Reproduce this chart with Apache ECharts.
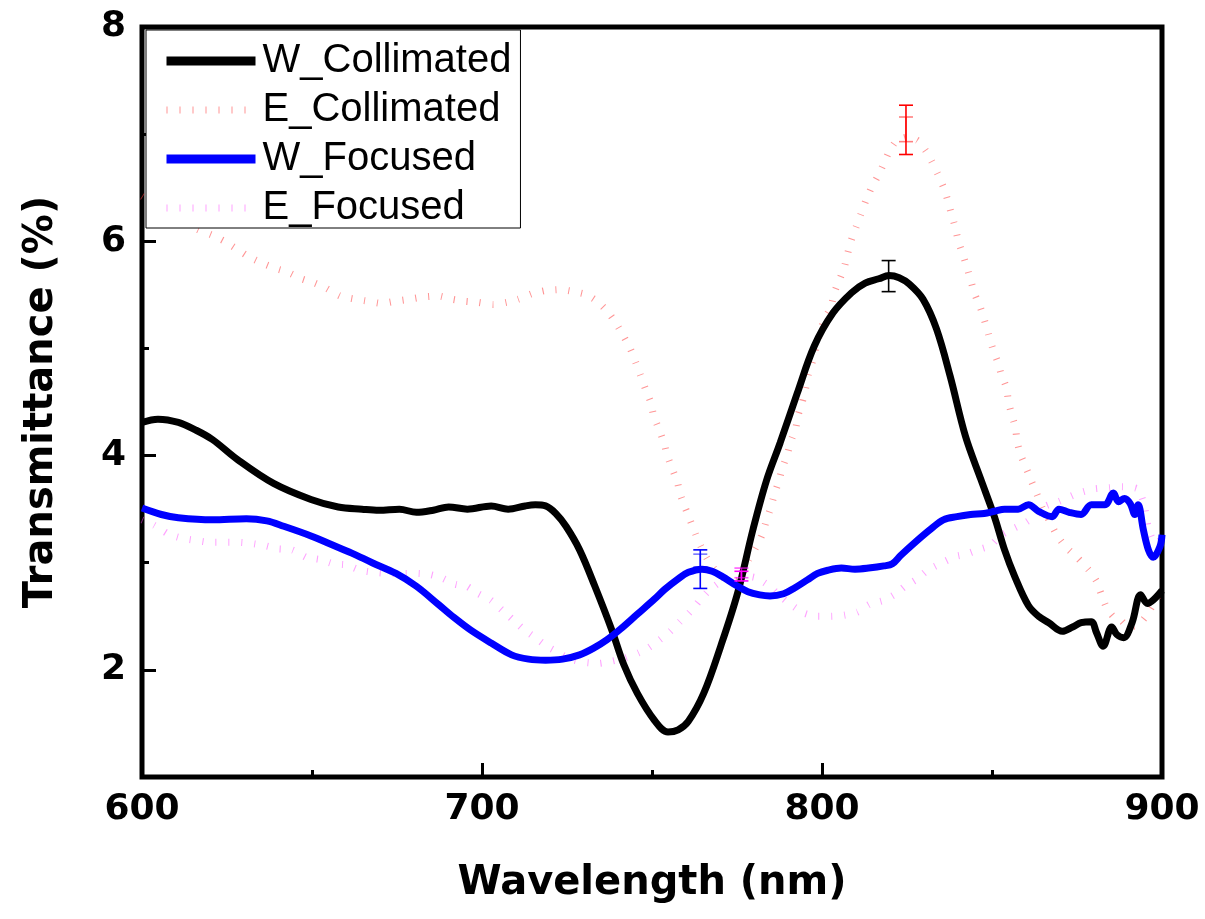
<!DOCTYPE html>
<html><head><meta charset="utf-8">
<script src="https://cdn.jsdelivr.net/npm/echarts@6/dist/echarts.min.js"></script>
<style>html,body{margin:0;padding:0;background:#fff}#c{width:1205px;height:919px}</style>
</head><body><div id="c"></div>
<script>
// ---- data ----
const wcX = [600,604.7,610.7,615.7,620.7,628.2,638.7,649.7,657.7,664.7,669.7,675.7,680.7,685.7,690.2,695.7,702.7,707.7,712.7,715.7,718.7,721.7,724.7,728.7,733.2,738.2,741.7,745.7,750.7,754.7,757.7,760.7,765.2,770.2,775.2,779.7,783.7,787.7,792.7,797.7,803.2,808.7,812.7,816.7,819.7,822.7,825.7,829.7,833.7,837.7,842.2,846.7,850.7,853.7,856.7,860.7,863.7,866.7,870.7,873.7,876.2,879.2,880.7,882.7,885.2,886.7,888.7,891.2,893.7,895.7,897.7,900];
const wcY = [4.31,4.34,4.31,4.24,4.15,3.96,3.74,3.59,3.52,3.50,3.49,3.50,3.47,3.49,3.52,3.50,3.53,3.50,3.53,3.54,3.53,3.46,3.34,3.12,2.78,2.37,2.05,1.78,1.53,1.42,1.44,1.52,1.78,2.22,2.72,3.31,3.77,4.12,4.58,5.02,5.33,5.52,5.61,5.65,5.68,5.66,5.60,5.46,5.18,4.74,4.18,3.78,3.43,3.12,2.87,2.60,2.50,2.44,2.36,2.40,2.44,2.45,2.35,2.22,2.40,2.33,2.30,2.44,2.70,2.62,2.66,2.74];

const ecX = [600,605,610,616.4,620.4,624.3,631.2,635.1,639,643,646.9,650.8,654.3,658.2,662.6,666.5,670.5,674.4,678.8,682.7,687.1,691.1,695,698.9,703.3,707.3,710.7,714.6,718.6,723,727,730.9,734.3,737.3,739.7,741.7,743.7,745.2,746.6,748.1,749.6,750.5,752,753.5,754.5,755.9,757.4,758.3,759.8,761.3,762.8,764.3,766.2,768.2,771.1,775.1,778.5,780.5,782.4,783.6,784.9,786,787.3,788.3,789.8,790.8,792.3,793,794.2,795.2,796,797.2,798.2,799.4,800.6,802.6,803.6,805,806.5,807.5,808.5,810,811.4,812.9,814.4,816.3,818.1,819.8,821.7,824.7,828.1,830.6,832.2,834,835.8,837,838.1,839.2,840.1,841.4,842.7,843.8,845,846.6,847.8,849,850.1,851.6,852.7,854.3,854.8,855.8,856.9,857.4,858.4,860.1,861.6,863.2,864.8,866.9,869,871.6,875,878.5,880.7,882.2,883.7,885.6,888,890.1,893,895.5,897.4,899.9];
const ecY = [6.42,6.32,6.22,6.11,6.06,6.00,5.86,5.80,5.75,5.71,5.65,5.61,5.56,5.49,5.46,5.44,5.42,5.44,5.46,5.48,5.49,5.46,5.44,5.43,5.41,5.43,5.46,5.51,5.54,5.55,5.53,5.50,5.43,5.33,5.22,5.11,4.99,4.87,4.75,4.62,4.50,4.37,4.25,4.12,4.00,3.88,3.76,3.64,3.51,3.39,3.27,3.16,3.04,2.95,2.86,2.83,3.03,3.14,3.26,3.39,3.51,3.64,3.76,3.88,4.01,4.13,4.26,4.38,4.50,4.63,4.76,4.88,5.01,5.14,5.27,5.38,5.52,5.63,5.75,5.88,6.00,6.13,6.25,6.38,6.49,6.60,6.72,6.84,6.93,6.97,6.94,6.84,6.75,6.63,6.50,6.38,6.25,6.13,6.00,5.88,5.75,5.63,5.50,5.38,5.26,5.13,5.01,4.88,4.76,4.63,4.51,4.38,4.26,4.13,4.01,3.88,3.76,3.64,3.51,3.39,3.26,3.15,3.05,2.93,2.83,2.70,2.58,2.50,2.46,2.40,2.42,2.51,2.61,2.75];

const wfX = [600,605.7,610.7,620.7,630.7,636.7,641.7,649.7,655.7,661.7,667.7,674.7,680.7,687.2,691.7,696.7,702.7,708.7,713.7,718.7,723.7,728.7,732.7,736.7,740.7,745.7,750.7,753.7,757.7,760.7,764.7,767.7,770.7,774.7,778.2,781.7,784.7,788.7,791.7,795.7,798.7,801.7,805.7,809.7,813.7,818.2,820.7,823.2,827.7,832.2,835.7,839.7,843.7,847.7,850.7,853.7,857.7,860.7,863.7,867.7,869.7,872.7,876.2,879.2,883.2,885.7,887.2,889,890.7,892,893,894.5,896,897.4,899.4,900];
const wfY = [3.51,3.45,3.42,3.40,3.41,3.39,3.34,3.25,3.17,3.09,3.00,2.90,2.78,2.61,2.49,2.37,2.25,2.14,2.10,2.09,2.10,2.14,2.20,2.28,2.38,2.52,2.66,2.75,2.85,2.91,2.94,2.92,2.87,2.79,2.73,2.70,2.69,2.71,2.76,2.84,2.90,2.93,2.95,2.94,2.95,2.97,2.99,3.07,3.20,3.32,3.40,3.43,3.45,3.46,3.48,3.50,3.50,3.54,3.48,3.43,3.50,3.47,3.45,3.54,3.54,3.65,3.57,3.60,3.55,3.45,3.54,3.31,3.12,3.05,3.15,3.26];

const efX = [600,603.6,607.6,611.5,615.4,620,624.3,628.2,632.1,636.1,640,644.2,648.4,652.3,656.2,660.1,664.1,668.3,672.4,676.4,680.3,684.7,688.1,692.1,695.5,698.9,702.6,705.8,709,712.2,715.7,719.1,722.5,726,730.2,734.3,738,742,746.1,749.1,752.2,755.4,758.2,761.2,763.8,766.7,769.6,772.6,776.4,780.5,784.2,787.3,790.8,794.7,798.6,802.6,806.5,810.4,813.9,818.3,821.7,824.4,827.6,831.1,836,839.4,842.4,845.8,849.6,852.4,855.7,859.6,862.5,865.9,869.6,875.4,880.2,884.4,888.1,892.8,894.7,896,898,900];
const efY = [3.40,3.35,3.27,3.23,3.21,3.19,3.19,3.19,3.18,3.16,3.13,3.12,3.05,3.03,2.99,2.98,2.93,2.91,2.90,2.90,2.90,2.89,2.86,2.80,2.78,2.71,2.65,2.56,2.47,2.38,2.30,2.22,2.16,2.10,2.07,2.06,2.08,2.11,2.16,2.21,2.28,2.36,2.45,2.54,2.64,2.74,2.81,2.85,2.88,2.86,2.79,2.70,2.61,2.53,2.50,2.50,2.51,2.54,2.61,2.65,2.71,2.78,2.84,2.93,3.01,3.06,3.08,3.12,3.16,3.25,3.31,3.37,3.43,3.53,3.57,3.65,3.69,3.70,3.71,3.69,3.55,3.32,3.18,3.22];

// error bars: [wavelength, low, high]
const errWC = [[819.6, 5.53, 5.82]];
const errEC = [[824.7, 6.81, 7.27], [824.7, 6.93, 7.16]];
const errWF = [[764.2, 2.76, 3.12], [764.2, 2.96, 3.08]];
const errEF = [[776.3, 2.83, 2.92], [776.3, 2.86, 2.95]];

const seriesNames = ['W_Collimated', 'E_Collimated', 'W_Focused', 'E_Focused'];
const yLabelValues = [2, 4, 6, 8];
const yMajorTicks = [2, 4, 6];
const yMinorTicks = [3, 5, 7];

// ---- chart ----
const zip = (xs, ys) => xs.map((x, i) => [x, ys[i]]);
const tickColor = '#000';

function errSeries(data, color, light) {
  return {
    type: 'custom', data: data, z: 6, silent: true,
    encode: { x: 0, y: [1, 2] },
    renderItem: function (params, api) {
      const x = api.value(0), lo = api.value(1), hi = api.value(2);
      const a = api.coord([x, hi]), b = api.coord([x, lo]);
      const c = params.dataIndex === 0 ? color : light;
      const w = 7, lw = 1.6;
      return { type: 'group', children: [
        { type: 'line', shape: { x1: a[0], y1: a[1], x2: b[0], y2: b[1] }, style: { stroke: c, lineWidth: lw } },
        { type: 'line', shape: { x1: a[0] - w, y1: a[1], x2: a[0] + w, y2: a[1] }, style: { stroke: c, lineWidth: lw } },
        { type: 'line', shape: { x1: b[0] - w, y1: b[1], x2: b[0] + w, y2: b[1] }, style: { stroke: c, lineWidth: lw } }
      ]};
    }
  };
}

const chart = echarts.init(document.getElementById('c'), null, { renderer: 'canvas' });
const labelFont = { fontFamily: 'DejaVu Sans', fontWeight: 'bold', fontSize: 36, color: '#000' };
const nameFont = { fontFamily: 'DejaVu Sans', fontWeight: 'bold', fontSize: 40, color: '#000' };
const ecColor = 'rgba(255,60,60,0.55)';
const efColor = 'rgba(255,70,255,0.5)';

chart.setOption({
  animation: false,
  backgroundColor: '#fff',
  grid: { left: 142, right: 43, top: 27, bottom: 142, show: true, borderWidth: 5, borderColor: '#000', backgroundColor: 'transparent' },
  legend: {
    orient: 'vertical', left: 146, top: 30,
    padding: [11, 9, 0, 16], itemGap: 9, itemWidth: 89, itemHeight: 14,
    backgroundColor: '#fff', borderColor: '#000', borderWidth: 1,
    itemStyle: { opacity: 0 },
    textStyle: { fontFamily: 'Liberation Sans', fontSize: 40, color: '#000', lineHeight: 40, padding: [0, 0, 0, 2] },
    data: [
      { name: seriesNames[0], lineStyle: { width: 9 } },
      { name: seriesNames[1], lineStyle: { width: 7, type: [1, 12] } },
      { name: seriesNames[2], lineStyle: { width: 9 } },
      { name: seriesNames[3], lineStyle: { width: 7, type: [1, 12] } }
    ]
  },
  xAxis: {
    type: 'value', min: 600, max: 900, interval: 100,
    axisLine: { show: false },
    axisTick: { inside: true, length: 14, lineStyle: { width: 3, color: tickColor } },
    minorTick: { show: true, splitNumber: 2, length: 7, lineStyle: { width: 3, color: tickColor } },
    splitLine: { show: false }, minorSplitLine: { show: false },
    axisLabel: Object.assign({ margin: 15 }, labelFont),
    name: 'Wavelength (nm)', nameLocation: 'middle', nameGap: 87, nameTextStyle: nameFont
  },
  yAxis: [
    {
      type: 'value', min: 1, max: 8, position: 'left',
      axisLine: { show: false },
      axisTick: { inside: true, length: 14, customValues: yMajorTicks, lineStyle: { width: 3, color: tickColor } },
      splitLine: { show: false },
      axisLabel: Object.assign({ margin: 16, customValues: yLabelValues }, labelFont),
      name: 'Transmittance (%)', nameLocation: 'middle', nameGap: 80, nameTextStyle: nameFont
    },
    {
      type: 'value', min: 1, max: 8, position: 'left', offset: 0,
      axisLine: { show: false },
      axisTick: { inside: true, length: 7, customValues: yMinorTicks, lineStyle: { width: 3, color: tickColor } },
      splitLine: { show: false },
      axisLabel: { show: false }
    }
  ],
  series: [
    { name: seriesNames[0], type: 'line', data: zip(wcX, wcY), symbol: 'none', smooth: 0.35, z: 4,
      itemStyle: { color: '#000' }, lineStyle: { color: '#000', width: 7 } },
    { name: seriesNames[1], type: 'line', data: zip(ecX, ecY), symbol: 'none', smooth: 0.2, z: 3,
      itemStyle: { color: ecColor }, lineStyle: { color: ecColor, width: 7, type: [1, 12], cap: 'butt' } },
    { name: seriesNames[2], type: 'line', data: zip(wfX, wfY), symbol: 'none', smooth: 0.35, z: 4,
      itemStyle: { color: '#0000ff' }, lineStyle: { color: '#0000ff', width: 7 } },
    { name: seriesNames[3], type: 'line', data: zip(efX, efY), symbol: 'none', smooth: 0.2, z: 3,
      itemStyle: { color: efColor }, lineStyle: { color: efColor, width: 7, type: [1, 12], cap: 'butt' } },
    errSeries(errWC, '#000', 'rgba(0,0,0,0.5)'),
    errSeries(errEC, '#ff0000', 'rgba(255,0,0,0.5)'),
    errSeries(errWF, '#0000ff', 'rgba(0,0,255,0.55)'),
    errSeries(errEF, '#ff00ff', 'rgba(255,0,255,0.65)')
  ]
});
</script>
</body></html>
